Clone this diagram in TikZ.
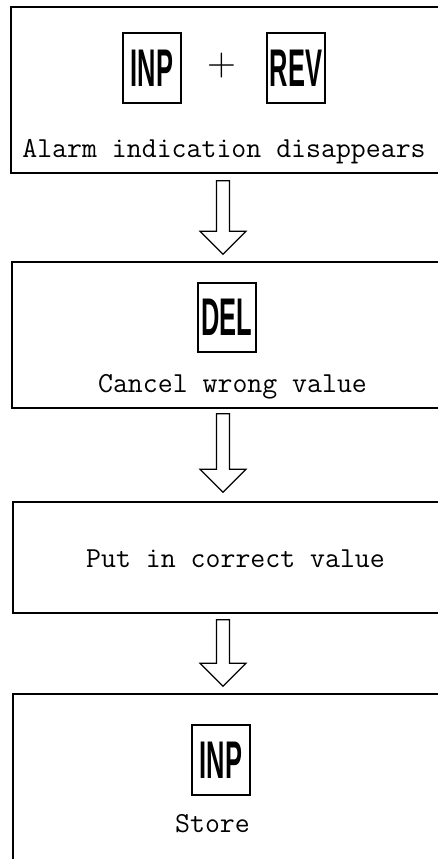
\documentclass[tikz,border=0pt]{standalone}
\usepackage{fontspec}
\usepackage{graphicx}
\newfontfamily\keyfont{Liberation Sans}
\usetikzlibrary{calc}
\newcommand\keylabel[1]{\scalebox{0.48}[1]{\fontsize{53}{60}\selectfont\keyfont\bfseries #1}}
\newcommand\hollowarrow[2]{%
  \draw[arrowline] ($(#1)+(-6.5,0)$) -- ($(#2)+(-6.5,-23)$) -- ($(#2)+(-23,-23)$) -- (#2)
    -- ($(#2)+(23,-23)$) -- ($(#2)+(6.5,-23)$) -- ($(#1)+(6.5,0)$) -- cycle;}
\begin{document}
\begin{tikzpicture}[x=1pt,y=-1pt,
  stagebox/.style={draw=black, line width=1.4pt, rectangle, inner sep=0pt},
  keybox/.style={draw=black, line width=1.5pt, rectangle, inner sep=0pt, minimum width=58pt, minimum height=70pt},
  arrowline/.style={draw=black, line width=1.2pt, line join=miter},
  caption/.style={anchor=base, inner sep=0pt, font=\ttfamily\fontsize{29}{34}\selectfont}
]
\useasboundingbox (0,0) rectangle (438,859);
\fill[white] (0,0) rectangle (438,859);
% stage boxes (right side runs past the page edge)
\node[stagebox, minimum width=434pt, minimum height=166pt] (b1) at (228,90) {};
\node[stagebox, minimum width=433pt, minimum height=146pt] (b2) at (228.5,335) {};
\node[stagebox, minimum width=432pt, minimum height=111pt] (b3) at (229,557.5) {};
\node[stagebox, minimum width=432pt, minimum height=186pt] (b4) at (229,787) {};
% box 1
\node[keybox] (k1) at (152,68) {\keylabel{INP}};
\node[inner sep=0pt, font=\fontsize{40}{40}\selectfont\rmfamily] (plus) at (222,66) {+};
\node[keybox] (k2) at (296,68) {\keylabel{REV}};
\node[caption] (t1) at (224,157) {Alarm indication disappears};
% box 2
\node[keybox, minimum height=69pt] (k3) at (227,317.5) {\keylabel{DEL}};
\node[caption] (t2) at (232.5,392) {Cancel wrong value};
% box 3
\node[caption] (t3) at (235.5,567) {Put in correct value};
% box 4
\node[keybox] (k4) at (221,760) {\keylabel{INP}};
\node[caption] (t4) at (212.5,832) {Store};
% connectors
\coordinate (ax) at (223,0);
\coordinate (a1s) at ($(b1.south -| ax)+(0,7)$);
\coordinate (a1t) at ($(b2.north -| ax)+(0,-7)$);
\coordinate (a2s) at ($(b2.south -| ax)+(0,5)$);
\coordinate (a2t) at ($(b3.north -| ax)+(0,-9)$);
\coordinate (a3s) at ($(b3.south -| ax)+(0,6)$);
\coordinate (a3t) at ($(b4.north -| ax)+(0,-7)$);
\hollowarrow{a1s}{a1t}
\hollowarrow{a2s}{a2t}
\hollowarrow{a3s}{a3t}
\end{tikzpicture}
\end{document}
